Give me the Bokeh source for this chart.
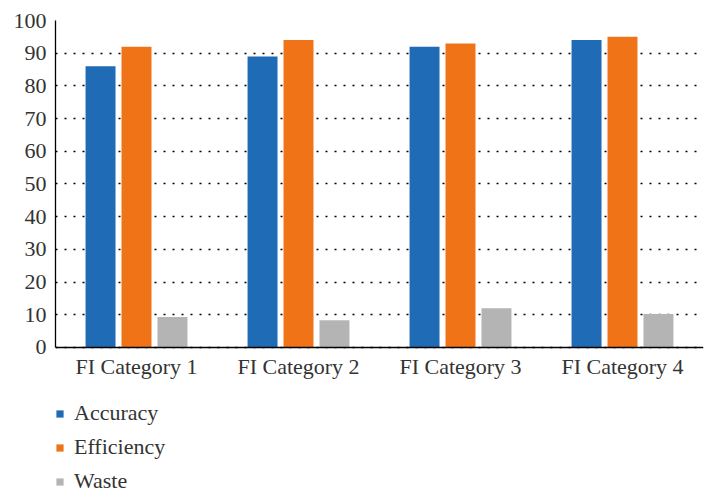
from bokeh.plotting import figure
from bokeh.models import (ColumnDataSource, FactorRange, Legend, LegendItem,
                          FixedTicker, Range1d)
from bokeh.transform import dodge
from bokeh.embed import file_html
from bokeh.resources import INLINE

categories = ["FI Category 1", "FI Category 2", "FI Category 3", "FI Category 4"]
accuracy = [86, 89, 92, 94]
efficiency = [92, 94, 93, 95]
waste = [9.3, 8.3, 12, 10.2]
y_ticks = [0, 10, 20, 30, 40, 50, 60, 70, 80, 90, 100]

series_names = ["Accuracy", "Efficiency", "Waste"]
series_colors = ["#1f6bb5", "#f07318", "#b4b4b4"]

source = ColumnDataSource(data=dict(cat=categories, Accuracy=accuracy,
                                    Efficiency=efficiency, Waste=waste))

FONT = "'Liberation Serif', serif"
TEXT = "#333333"

# the frame runs to the bottom of the page; the space under y=0 holds
# the category labels and the legend
p = figure(x_range=FactorRange(*categories), y_range=Range1d(-45, 100),
           width=704, height=494, output_backend="svg", toolbar_location=None,
           min_border_left=55, min_border_right=1, min_border_top=20,
           min_border_bottom=0)
p.outline_line_color = None
p.background_fill_color = "white"
p.border_fill_color = "white"

offsets = [-0.222, 0.0, 0.222]
renderers = []
for name, color, off in zip(series_names, series_colors, offsets):
    r = p.vbar(x=dodge("cat", off, range=p.x_range), top=name, bottom=0,
               width=0.185, source=source, fill_color=color, line_color=None)
    renderers.append(r)

# dotted horizontal grid only
p.xgrid.grid_line_color = None
p.ygrid.grid_line_color = "black"
p.ygrid.grid_line_dash = "2 7"
p.ygrid.grid_line_width = 1.5

p.yaxis.ticker = FixedTicker(ticks=y_ticks)
p.yaxis.bounds = (0, 100)
p.xaxis.fixed_location = 0
for ax in (p.xaxis[0], p.yaxis[0]):
    ax.axis_line_color = "black"
    ax.axis_line_width = 1.3
    ax.major_tick_line_color = None
    ax.minor_tick_line_color = None
    ax.major_tick_out = 0
    ax.major_tick_in = 0
    ax.major_label_text_font = FONT
    ax.major_label_text_font_size = "22px"
    ax.major_label_text_color = TEXT
p.yaxis.major_label_standoff = 9
p.xaxis.major_label_standoff = 7

legend = Legend(items=[LegendItem(label=n, renderers=[r]) for n, r in zip(series_names, renderers)],
                orientation="vertical", location=(0, 0),
                glyph_width=9, glyph_height=9, label_standoff=10,
                spacing=8, padding=0, margin=0,
                label_text_font=FONT, label_text_font_size="22px",
                label_text_color=TEXT, label_height=22,
                border_line_color=None, background_fill_alpha=0)
p.add_layout(legend, "center")

open("out.html", "w").write(file_html(p, INLINE))
